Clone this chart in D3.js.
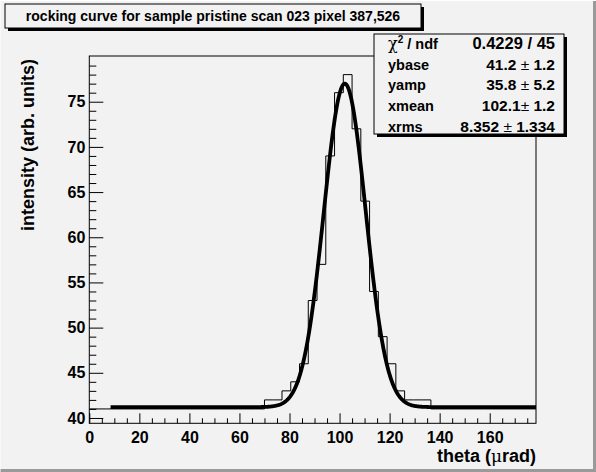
<!DOCTYPE html>
<html><head><meta charset="utf-8">
<script src="https://cdn.jsdelivr.net/npm/d3@7/dist/d3.min.js"></script>
<style>
html,body{margin:0;padding:0;background:#f2f2f2;}
svg{display:block;font-family:"Liberation Sans",Arial,Helvetica,sans-serif;font-weight:bold;}
</style>
</head><body>
<svg id="c" width="596" height="472"></svg>
<script>
// ---------- data ----------
const title = "rocking curve for sample pristine scan 023 pixel 387,526";
const xTitleParts = ["theta (", "μ", "rad)"];
const yTitle = "intensity (arb. units)";
const xDomain = [0, 178.5];
const yDomain = [39.41, 80.06];
const binWidth = 3.5;
const counts = [
  41,41,41,41,41,41,41,41,41,41,
  41,41,41,41,41,41,41,41,41,41,
  42,42,43,44,46,53,57,69,76,78,
  72,64,54,49,46,43,42,42,42,41,
  41,41,41,41,41,41,41,41,41,41,41
];
const xMajorTicks = [0,20,40,60,80,100,120,140,160];
const yMajorTicks = [40,45,50,55,60,65,70,75];
const statLabels = ["ybase","yamp","xmean","xrms"];
const statValues = ["41.2 ± 1.2","35.8 ± 5.2","102.1± 1.2","8.352 ± 1.334"];
const chi2Value = "0.4229 / 45";
const fitParams = {ybase:41.2, yamp:35.8, xmean:102.1, xrms:8.352};
const fitRange = [8.5, 178.5];

// ---------- layout ----------
const W = 596, H = 472;
const frame = {x0:89.3, x1:536, y0:56, y1:423.3};
const bg = "#f2f2f2";

const svg = d3.select("#c");
svg.append("rect").attr("width",W).attr("height",H).attr("fill",bg);
// canvas bevel
svg.append("path").attr("d",`M${W-1.5},0V${H-1.5}H0`).attr("fill","none").attr("stroke","#9a9a9a").attr("stroke-width",3);
svg.append("path").attr("d",`M0,${H}V0.5H${W}`).attr("fill","none").attr("stroke","#ffffff").attr("stroke-width",1);

const x = d3.scaleLinear().domain(xDomain).range([frame.x0, frame.x1]);
const y = d3.scaleLinear().domain(yDomain).range([frame.y1, frame.y0]);

const plot = svg.append("g");
svg.append("clipPath").attr("id","clp").append("rect")
  .attr("x",frame.x0).attr("y",frame.y0).attr("width",frame.x1-frame.x0).attr("height",frame.y1-frame.y0);

// histogram (step)
const stepPts = counts.map((c,i)=>[i*binWidth, c]);
stepPts.push([counts.length*binWidth, counts[counts.length-1]]);
plot.append("path")
  .attr("d", d3.line().x(d=>x(d[0])).y(d=>y(d[1])).curve(d3.curveStepAfter)(stepPts))
  .attr("fill","none").attr("stroke","#000").attr("stroke-width",1)
  .attr("clip-path","url(#clp)");

// fit curve
const f = t => fitParams.ybase + fitParams.yamp*Math.exp(-0.5*Math.pow((t-fitParams.xmean)/fitParams.xrms,2));
const fitX = d3.range(fitRange[0], fitRange[1]+1e-9, 0.25);
plot.append("path")
  .attr("d", d3.line().x(t=>x(t)).y(t=>y(f(t)))(fitX))
  .attr("fill","none").attr("stroke","#000").attr("stroke-width",3.8)
  .attr("stroke-linejoin","round").attr("clip-path","url(#clp)");

// frame
svg.append("rect").attr("x",frame.x0).attr("y",frame.y0)
  .attr("width",frame.x1-frame.x0).attr("height",frame.y1-frame.y0)
  .attr("fill","none").attr("stroke","#000").attr("stroke-width",1);

// axes
function styleAxis(g){
  g.select(".domain").remove();
  g.selectAll("line").attr("stroke","#000").attr("stroke-width",1);
  g.selectAll("text").attr("fill","#000").style("font-size","16px").style("font-weight","bold")
   .style("font-family",'"Liberation Sans",Arial,sans-serif');
}
const xMinor = d3.range(xDomain[0], xDomain[1], 5).filter(v=>v%20!==0);
svg.append("g").attr("transform",`translate(0,${frame.y1})`)
  .call(d3.axisBottom(x).tickValues(xMinor).tickSize(-5).tickFormat(""))
  .call(styleAxis);
svg.append("g").attr("transform",`translate(0,${frame.y1})`)
  .call(d3.axisBottom(x).tickValues(xMajorTicks).tickSize(-10).tickPadding(8).tickFormat(d3.format("d")))
  .call(styleAxis);
const yMinor = d3.range(40, 80, 1).filter(v=>v%5!==0);
svg.append("g").attr("transform",`translate(${frame.x0},0)`)
  .call(d3.axisLeft(y).tickValues(yMinor).tickSize(-7).tickFormat(""))
  .call(styleAxis);
svg.append("g").attr("transform",`translate(${frame.x0},0)`)
  .call(d3.axisLeft(y).tickValues(yMajorTicks).tickSize(-14).tickPadding(4).tickFormat(d3.format("d")))
  .call(styleAxis);

// axis titles
const xt = svg.append("text").attr("x",frame.x1).attr("y",462).attr("text-anchor","end")
  .style("font-size","18px");
xt.append("tspan").text(xTitleParts[0]);
xt.append("tspan").style("font-weight","normal").style("font-family",'"DejaVu Serif",serif').style("font-size","17px").text(xTitleParts[1]);
xt.append("tspan").text(xTitleParts[2]);

svg.append("text").attr("transform",`translate(34,${frame.y0+3}) rotate(-90)`)
  .attr("text-anchor","end").style("font-size","18px").text(yTitle);

// title box
const tb = {x:5, y:4, w:416, h:24};
svg.append("rect").attr("x",tb.x+3).attr("y",tb.y+3).attr("width",tb.w).attr("height",tb.h).attr("fill","#000");
svg.append("rect").attr("x",tb.x).attr("y",tb.y).attr("width",tb.w).attr("height",tb.h)
  .attr("fill",bg).attr("stroke","#000").attr("stroke-width",1);
svg.append("text").attr("x",tb.x+tb.w/2).attr("y",tb.y+17).attr("text-anchor","middle")
  .style("font-size","14px").text(title);

// stats box
const sb = {x:374, y:34, w:190, h:100};
svg.append("rect").attr("x",sb.x+3).attr("y",sb.y+3).attr("width",sb.w).attr("height",sb.h).attr("fill","#000");
svg.append("rect").attr("x",sb.x).attr("y",sb.y).attr("width",sb.w).attr("height",sb.h)
  .attr("fill",bg).attr("stroke","#000").attr("stroke-width",1);
const rowY = i => 48.8 + i*20.8;
const lx = 388, rx = 555;
const chiT = svg.append("text").attr("x",lx).attr("y",rowY(0)).style("font-size","14.5px");
chiT.append("tspan").style("font-weight","normal").style("font-family",'"DejaVu Serif",serif').style("font-size","16px").text("χ");
chiT.append("tspan").attr("dy",-6).style("font-size","10px").text("2");
chiT.append("tspan").attr("dy",6).text(" / ndf");
svg.append("text").attr("x",rx).attr("y",rowY(0)).attr("text-anchor","end").style("font-size","16.5px").text(chi2Value);
statLabels.forEach((lab,i)=>{
  svg.append("text").attr("x",lx).attr("y",rowY(i+1)).style("font-size","14.5px").text(lab);
  const parts = statValues[i].split("±");
  const t = svg.append("text").attr("x",rx).attr("y",rowY(i+1)).attr("text-anchor","end").style("font-size","15.5px");
  t.append("tspan").text(parts[0]);
  t.append("tspan").style("font-weight","normal").text("±");
  t.append("tspan").text(parts[1]);
});
</script>
</body></html>
